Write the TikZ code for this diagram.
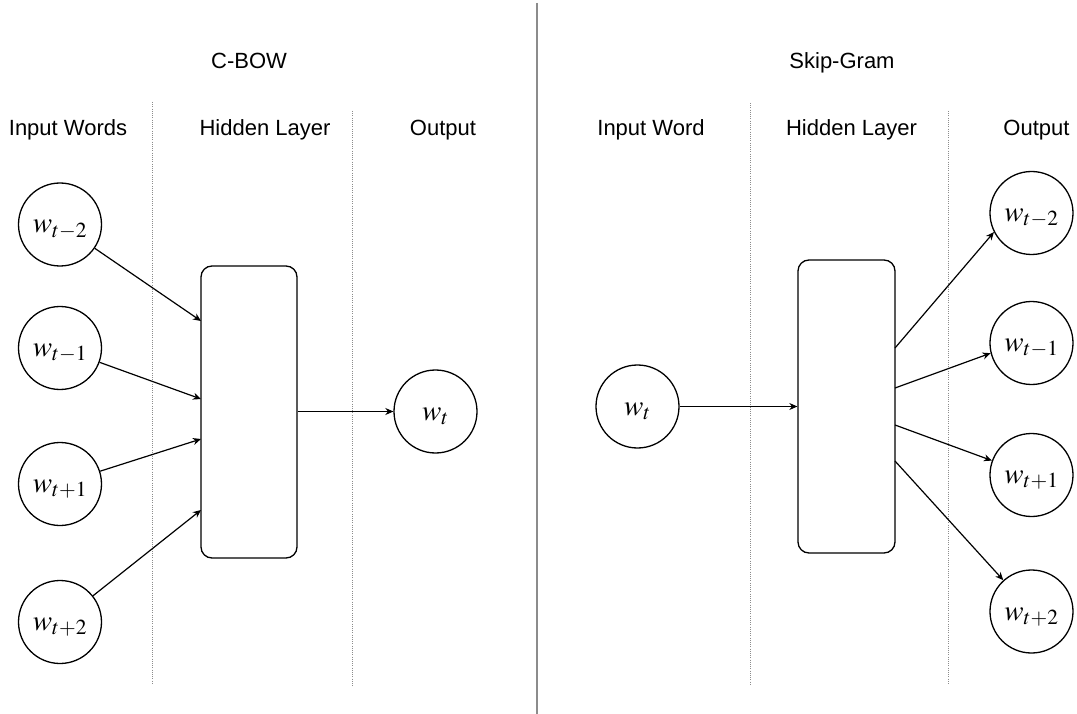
\documentclass[tikz,border=0pt]{standalone}
\usepackage{mathptmx}
\usepackage{fontspec}
\newfontfamily\labfont{Liberation Sans}
\usetikzlibrary{arrows.meta}
\begin{document}
\begin{tikzpicture}[x=1pt,y=-1pt,
  lbl/.style={font=\labfont\fontsize{22}{26}\selectfont, anchor=base, inner sep=0},
  word/.style={circle, draw, line width=1.3pt, minimum size=83pt, inner sep=0,
    text height=17pt, text depth=0pt,
    font=\fontsize{29}{34}\selectfont},
  hidden/.style={draw, line width=1.3pt, rounded corners=11pt, inner sep=0},
  conn/.style={line width=1.2pt, -{Stealth[length=8pt,width=7pt,inset=2.5pt]}},
  sep/.style={draw=black!45, line width=1pt, dash pattern=on 1pt off 1.2pt},
  divider/.style={draw=black!45, line width=1.6pt}
]
\useasboundingbox (0,0) rectangle (1077,714);

% divider
\coordinate (dtop) at (537,3);
\coordinate (dbot) at (537,714);
\draw[divider] (dtop) -- (dbot);

% ---------- C-BOW ----------
\node[lbl] (t1) at (249,68.5) {C-BOW};
\node[lbl] (l1) at (68,136) {Input Words};
\node[lbl] (l2) at (265,136) {Hidden Layer};
\node[lbl] (l3) at (443,136) {Output};

\coordinate (s1a) at (152,102); \coordinate (s1b) at (152,685);
\coordinate (s2a) at (352,111); \coordinate (s2b) at (352,686);
\draw[sep] (s1a) -- (s1b);
\draw[sep] (s2a) -- (s2b);

\node[word] (c1) at (60,224.5) {$w_{t-2}$};
\node[word] (c2) at (60,348) {$w_{t-1}$};
\node[word] (c3) at (60,484) {$w_{t+1}$};
\node[word] (c4) at (60,622) {$w_{t+2}$};

\node[hidden, minimum width=96pt, minimum height=292pt] (hl) at (249,412) {};
\node[word] (ot) at (435.5,411.5) {$w_{t}$};

\coordinate (e1) at (201,321);
\coordinate (e2) at (201,399);
\coordinate (e3) at (201,439);
\coordinate (e4) at (201,510);
\draw[conn] (c1) -- (e1);
\draw[conn] (c2) -- (e2);
\draw[conn] (c3) -- (e3);
\draw[conn] (c4) -- (e4);
\draw[conn] (hl.east |- ot.west) -- (ot.west);

% ---------- Skip-Gram ----------
\node[lbl] (t2) at (842,68.5) {Skip-Gram};
\node[lbl] (r1) at (651,136) {Input Word};
\node[lbl] (r2) at (851.5,136) {Hidden Layer};
\node[lbl] (r3) at (1036.5,136) {Output};

\coordinate (s3a) at (750,103); \coordinate (s3b) at (750,685);
\coordinate (s4a) at (948,111); \coordinate (s4b) at (948,685);
\draw[sep] (s3a) -- (s3b);
\draw[sep] (s4a) -- (s4b);

\node[word] (wt) at (637.5,406.5) {$w_{t}$};
\node[hidden, minimum width=97pt, minimum height=293pt] (hr) at (846.5,406.5) {};

\node[word] (d1) at (1031.5,213) {$w_{t-2}$};
\node[word] (d2) at (1031.5,343) {$w_{t-1}$};
\node[word] (d3) at (1031.5,475) {$w_{t+1}$};
\node[word] (d4) at (1031.5,611.5) {$w_{t+2}$};

\draw[conn] (wt) -- (hr.west);

\coordinate (f1) at (895,348);
\coordinate (f2) at (895,388);
\coordinate (f3) at (895,425);
\coordinate (f4) at (895,461);
\draw[conn] (f1) -- (d1.207);
\draw[conn] (f2) -- (d2.194);
\draw[conn] (f3) -- (d3.160);
\draw[conn] (f4) -- (d4.132);
\end{tikzpicture}
\end{document}
